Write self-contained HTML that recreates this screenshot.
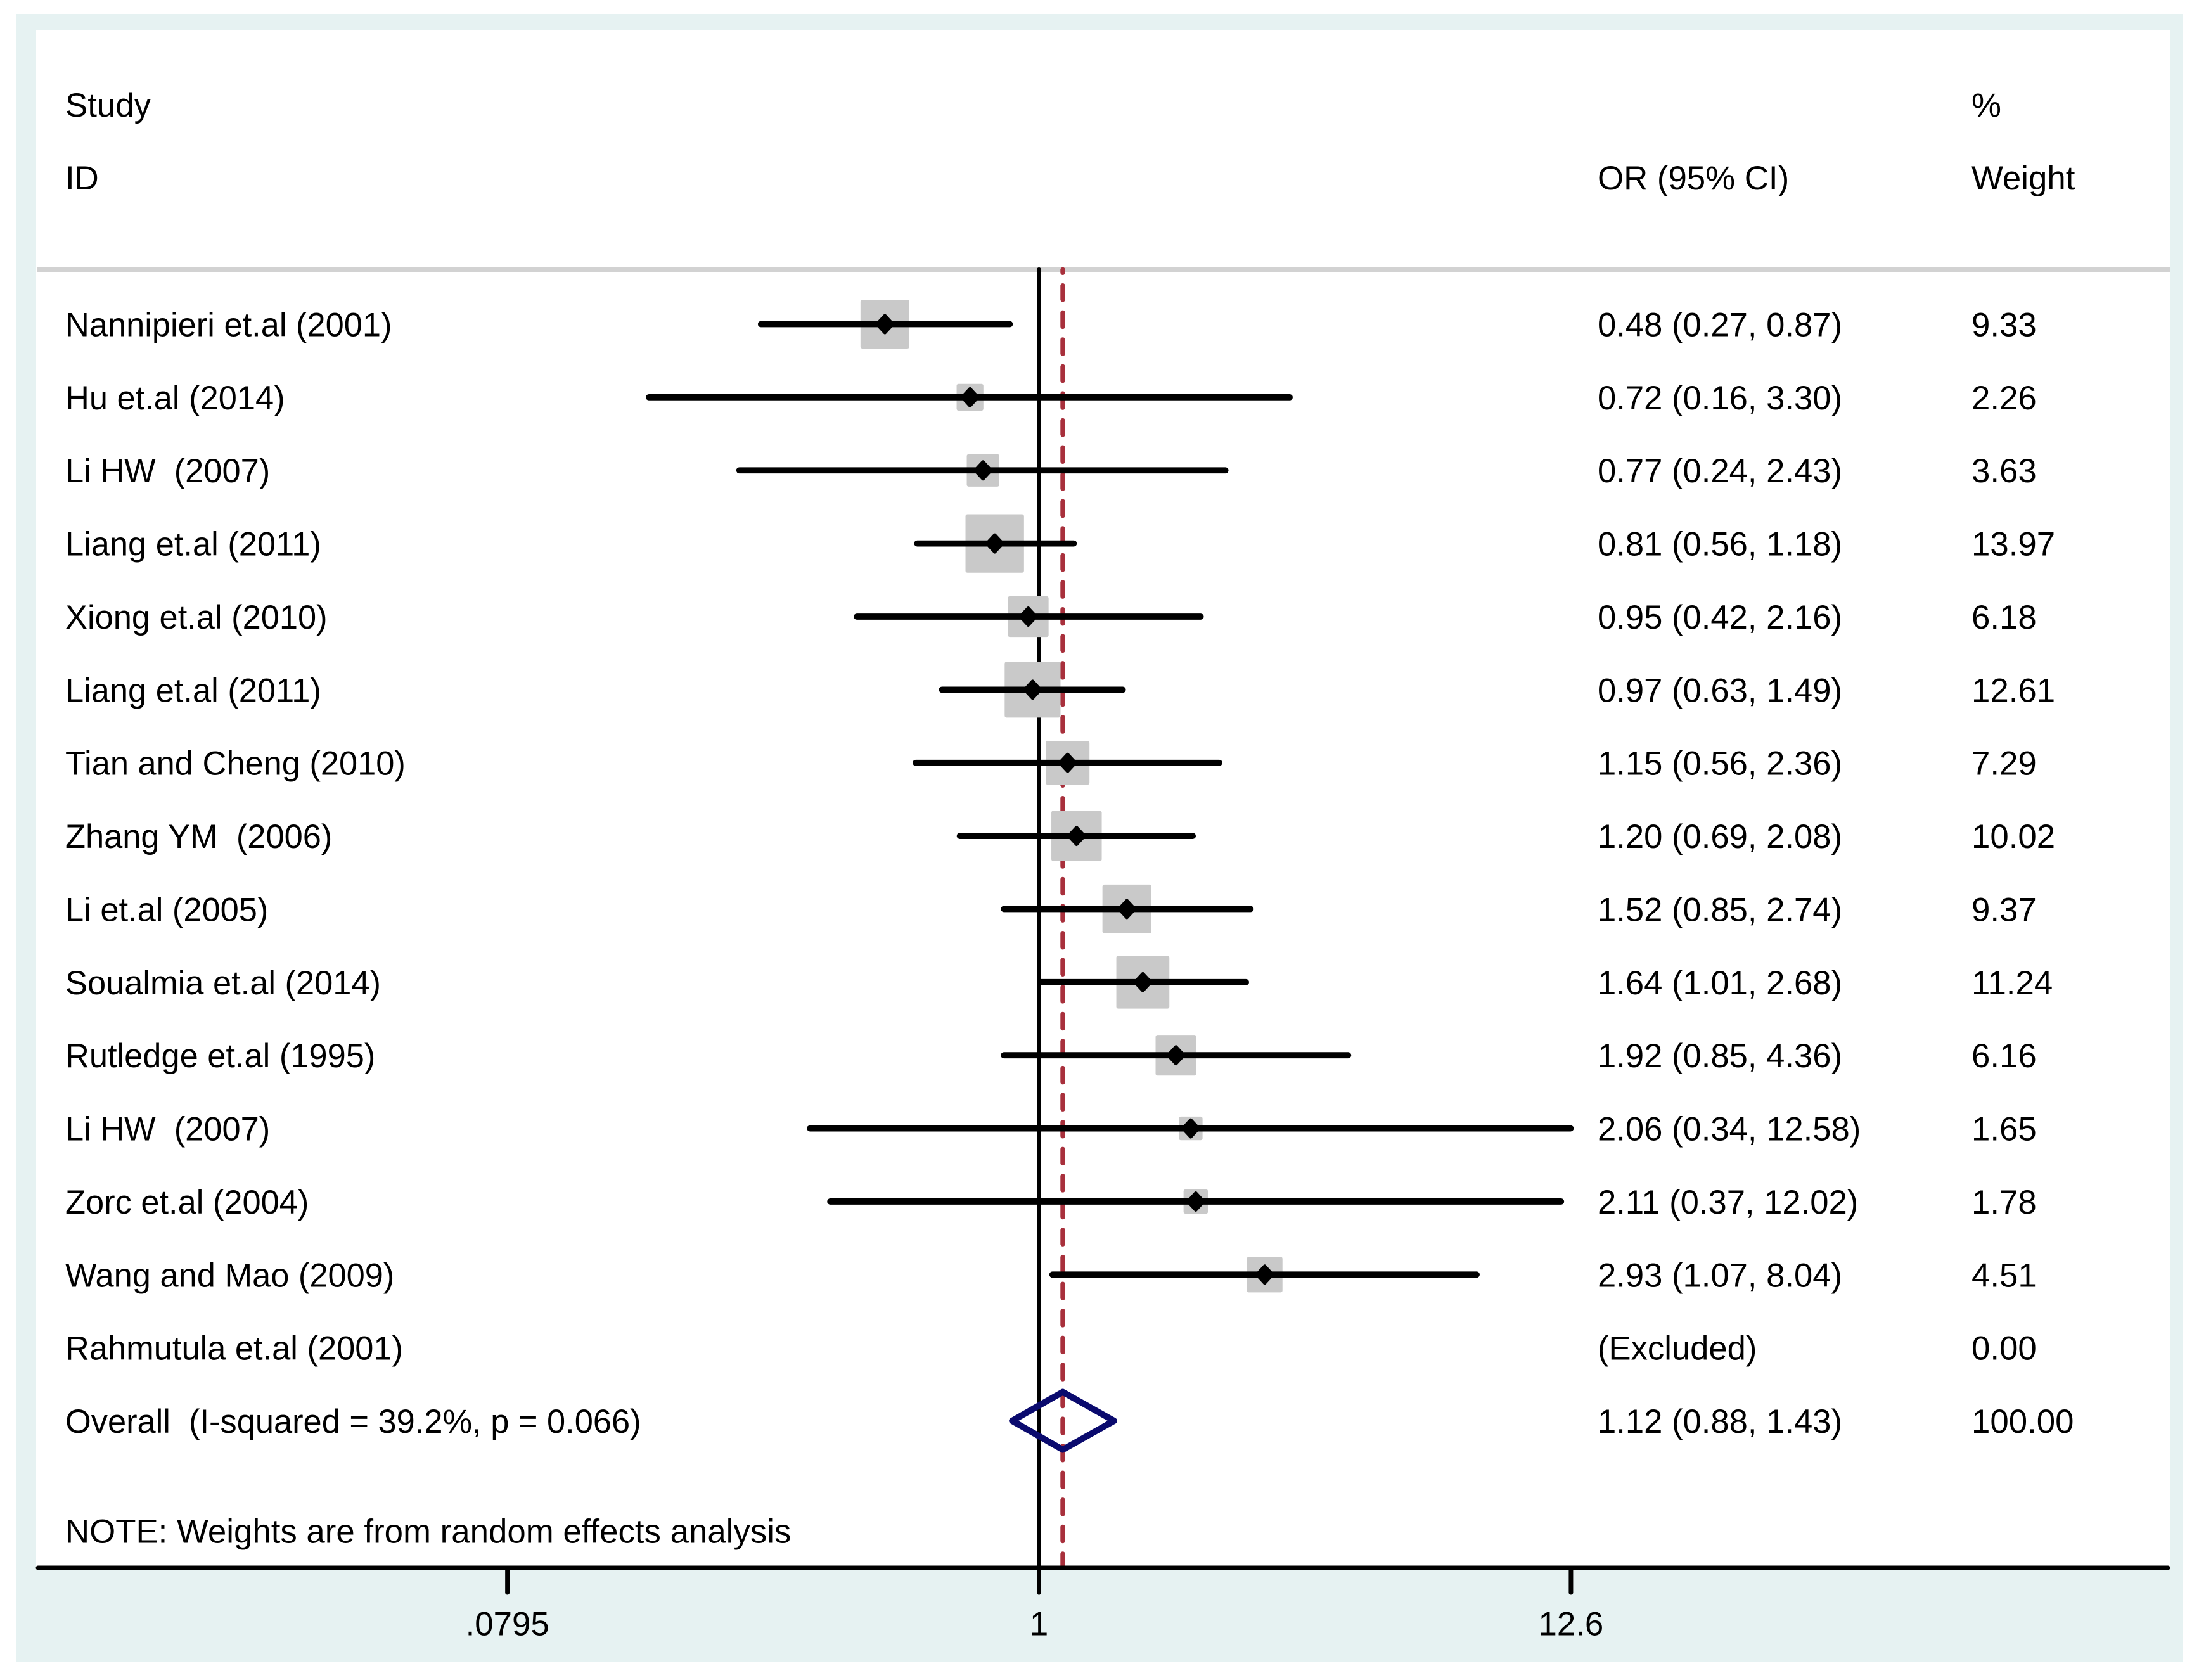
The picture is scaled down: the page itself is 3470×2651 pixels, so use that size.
<!DOCTYPE html>
<html lang="en">
<head>
<meta charset="utf-8">
<title>Forest plot of odds ratios</title>
<style>
html,body{margin:0;padding:0;background:#fff;}
svg{display:block;}
text{font-family:"Liberation Sans",Arial,sans-serif;font-size:52.8px;fill:#000;white-space:pre;}
text.study{font-size:52.4px;}
text.orci{font-size:52.6px;}
</style>
</head>
<body>
<svg id="chart" xmlns="http://www.w3.org/2000/svg" width="3470" height="2651" viewBox="0 0 3470 2651">
  <rect x="26" y="22" width="3418" height="2600.5" fill="#e6f2f2"/>
  <rect x="57" y="47" width="3367.5" height="2427" fill="#ffffff"/>
  <line x1="59" y1="425.5" x2="3424" y2="425.5" stroke="#d2d2d2" stroke-width="7"/>
  <text x="103" y="184">Study</text>
  <text x="103" y="299">ID</text>
  <text x="2521" y="299">OR (95% CI)</text>
  <text x="3111" y="184">%</text>
  <text x="3111" y="299">Weight</text>
  <text x="103" y="2434.5">NOTE: Weights are from random effects analysis</text>
  <g id="marks"></g>
</svg>
<script>
const studies = ["Nannipieri et.al (2001)","Hu et.al (2014)","Li HW  (2007)","Liang et.al (2011)","Xiong et.al (2010)","Liang et.al (2011)","Tian and Cheng (2010)","Zhang YM  (2006)","Li et.al (2005)","Soualmia et.al (2014)","Rutledge et.al (1995)","Li HW  (2007)","Zorc et.al (2004)","Wang and Mao (2009)","Rahmutula et.al (2001)"];
const oddsRatios = [0.48,0.72,0.766,0.81,0.95,0.97,1.146,1.196,1.52,1.64,1.92,2.06,2.11,2.93,null];
const lowerCI = [0.266,0.156,0.24,0.56,0.42,0.63,0.556,0.686,0.846,1.01,0.846,0.336,0.37,1.066,null];
const upperCI = [0.87,3.30,2.43,1.18,2.16,1.49,2.36,2.08,2.74,2.68,4.36,12.58,12.02,8.04,null];
const weights = [9.33,2.26,3.63,13.97,6.18,12.61,7.29,10.02,9.37,11.24,6.16,1.65,1.78,4.51,0.00];
const overallLabel = ["Overall  (I-squared = 39.2%, p = 0.066)"];
const overallOR = [1.12];
const overallCI = [0.88,1.43];
const overallWeight = [100.00];
const xTickValues = [0.0795,1,12.6];
const xTickLabels = [".0795","1","12.6"];

const NS = "http://www.w3.org/2000/svg";
const marks = document.getElementById("marks");
const xScale = v => 1639.5 + Math.log(v) * 331.3;
const rowY = i => 511.5 + i * 115.37;
function mk(tag, attrs, text){
  const el = document.createElementNS(NS, tag);
  for (const k in attrs) el.setAttribute(k, attrs[k]);
  if (text !== undefined) el.textContent = text;
  marks.appendChild(el);
  return el;
}
const axisY = 2474;

/* reference lines */
const nullLine = mk("line",{x1:xScale(1),y1:425.5,x2:xScale(1),y2:2513,stroke:"#000",["stroke-width"]:7,["stroke-linecap"]:"round"});


const pooledLine = mk("line",{x1:xScale(overallOR[0]),y1:425.5,x2:xScale(overallOR[0]),y2:axisY,stroke:"#a8303c",["stroke-width"]:7.5,["stroke-linecap"]:"round",["stroke-dasharray"]:"22 20.58",["stroke-dashoffset"]:17.3});



/* axis */
const axisLine = mk("line",{x1:60,y1:axisY,x2:3421,y2:axisY,stroke:"#000",["stroke-width"]:7,["stroke-linecap"]:"round"});


xTickValues.forEach((v,i) => {
  const tick = mk("line",{x1:xScale(v),y1:axisY,x2:xScale(v),y2:2513,stroke:"#000",["stroke-width"]:7,["stroke-linecap"]:"round"});
  
  
  const lab = mk("text",{x:xScale(v),y:2580.5,["text-anchor"]:"middle"},xTickLabels[i]);
  
  
});

/* study rows */
studies.forEach((name,i) => {
  const y = rowY(i);
  const label = mk("text",{x:103,y:y+19,class:"study"},name);
  
  
  const orValue = oddsRatios[i];
  const ciText = orValue === null ? "(Excluded)" : orValue.toFixed(2)+" ("+lowerCI[i].toFixed(2)+", "+upperCI[i].toFixed(2)+")";
  const ci = mk("text",{x:2521,y:y+19,class:"orci"},ciText);
  
  
  const wt = mk("text",{x:3111,y:y+19},weights[i].toFixed(2));
  
  
  if (orValue === null) return;
  const cx = xScale(orValue);
  const size = 22.4*Math.sqrt(weights[i]) + 8.6;
  const box = mk("rect",{x:cx-size/2,y:y-size/2,width:size,height:size,rx:3,ry:3,fill:"#c9c9c9"});
  
  
  const line = mk("line",{x1:xScale(lowerCI[i]),y1:y,x2:xScale(upperCI[i]),y2:y,stroke:"#000",["stroke-width"]:9.8,["stroke-linecap"]:"round"});
  
  
  const hw = 12.5;
  const hh = 13.5;
  const pt = mk("polygon",{points:[cx-hw,y,cx,y-hh,cx+hw,y,cx,y+hh].join(" "),fill:"#000",stroke:"#000",["stroke-width"]:5,["stroke-linejoin"]:"round"});
  
  
});

/* overall row */
const overallY = rowY(studies.length);
const overallName = mk("text",{x:103,y:overallY+19,class:"study"},overallLabel[0]);


const overallText = mk("text",{x:2521,y:overallY+19,class:"orci"},overallOR[0].toFixed(2)+" ("+overallCI[0].toFixed(2)+", "+overallCI[1].toFixed(2)+")");


const overallWt = mk("text",{x:3111,y:overallY+19},overallWeight[0].toFixed(2));


const dh = 45.5;
const diamond = mk("polygon",{points:[xScale(overallCI[0]),overallY,xScale(overallOR[0]),overallY-dh,xScale(overallCI[1]),overallY,xScale(overallOR[0]),overallY+dh].join(" "),fill:"none",stroke:"#0a0a6e",["stroke-width"]:10,["stroke-linejoin"]:"round"});


</script>
</body>
</html>
